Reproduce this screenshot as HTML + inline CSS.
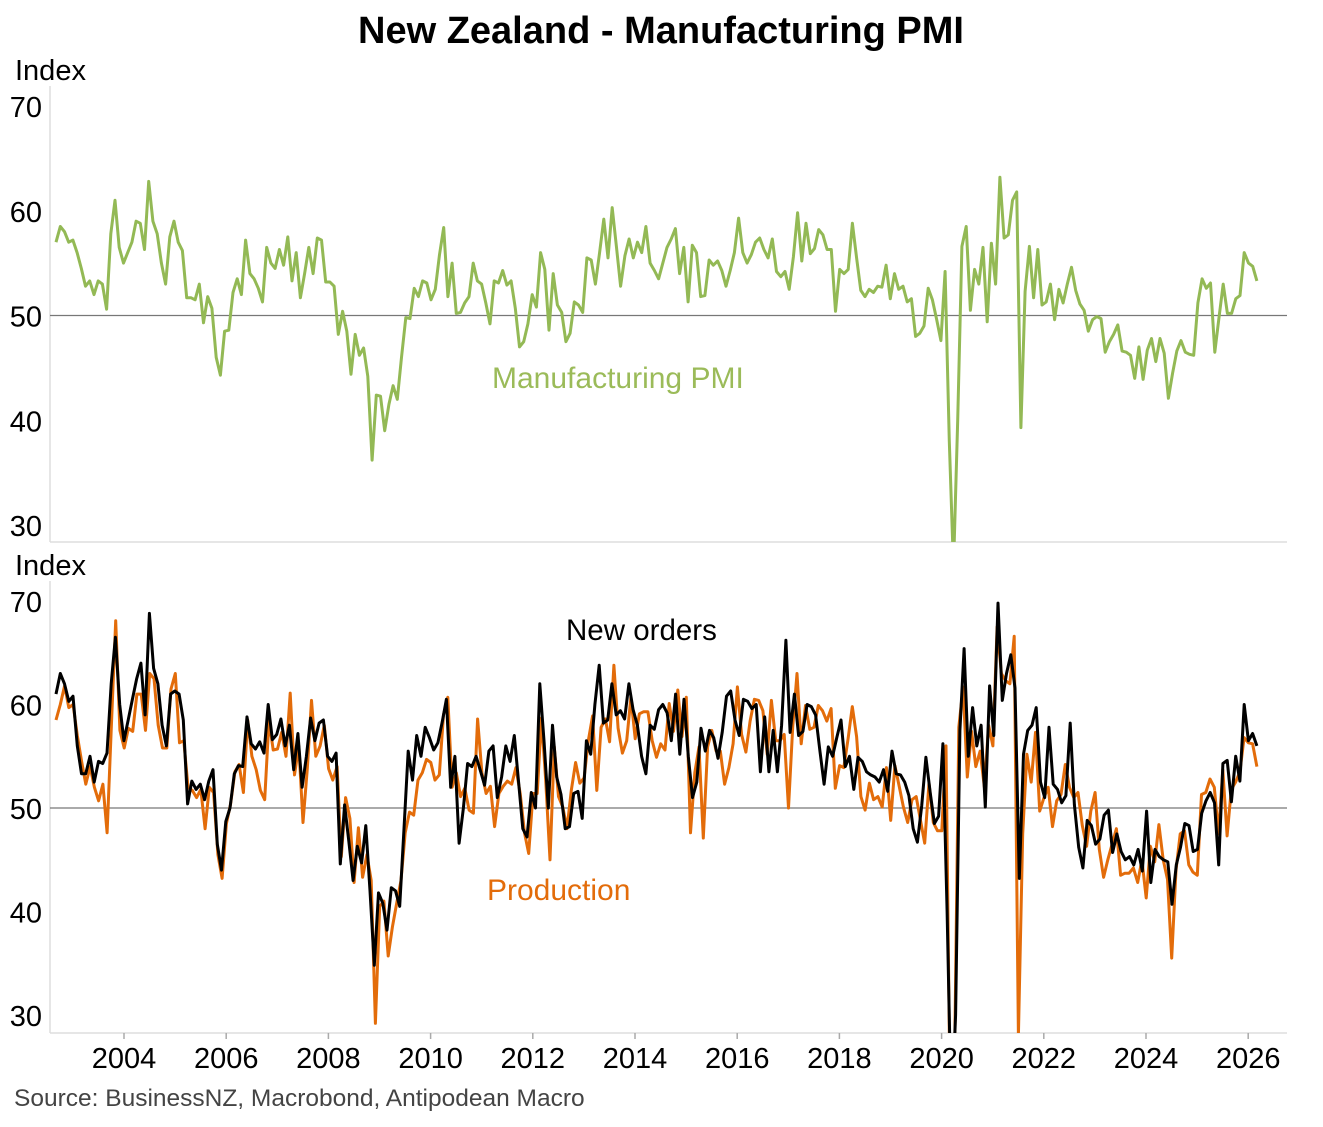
<!DOCTYPE html>
<html><head><meta charset="utf-8"><style>
body{margin:0;background:#fff;}
svg text{font-family:"Liberation Sans",Arial,sans-serif;}
</style></head><body>
<svg id="c" width="1323" height="1122" xmlns="http://www.w3.org/2000/svg">
<defs>
<clipPath id="clipTop"><rect x="50" y="90" width="1237" height="452"/></clipPath>
<clipPath id="clipBot"><rect x="50" y="585" width="1237" height="448"/></clipPath>
</defs>
<text x="661" y="43" text-anchor="middle" font-size="38" font-weight="bold">New Zealand - Manufacturing PMI</text>
<text x="15" y="80" font-size="29">Index</text>
<text x="15" y="575" font-size="29">Index</text>
<text x="14" y="1106" font-size="24.5" fill="#444">Source: BusinessNZ, Macrobond, Antipodean Macro</text>
<g id="gTop"></g>
<g id="gBot"></g>
<text x="492" y="388" font-size="30" fill="#9bbb59">Manufacturing PMI</text>
<text x="566" y="640" font-size="29.5" fill="#000">New orders</text>
<text x="487" y="900" font-size="30" fill="#e36c0a">Production</text>
</svg>
<script>
const yTicks=[30,40,50,60,70];
const xYears=[2004,2006,2008,2010,2012,2014,2016,2018,2020,2022,2024,2026];
const startYear=2002.67, endYear=2026.17;
const pmi=[57,58.5,58,57,57.2,56,54.5,52.8,53.3,52,53.3,53,50.6,57.8,61,56.5,55,56,57,59,58.8,56.3,62.8,59,57.8,55,53,57.5,59,57,56.2,51.7,51.7,51.5,53,49.3,51.8,50.7,46,44.3,48.5,48.6,52.2,53.5,52,57.2,54,53.5,52.6,51.3,56.5,55,54.5,56.3,54.8,57.5,53.3,56,51.7,54,56.5,54,57.4,57.2,53.2,53.2,52.8,48.2,50.4,48.5,44.4,48.2,46.2,46.9,44.2,36.2,42.4,42.3,39,41.5,43.3,42,46,49.8,49.7,52.6,51.8,53.3,53.1,51.5,52.5,55.8,58.4,51.8,55,50.2,50.3,51.2,51.8,55,53.3,53,51.2,49.2,53.3,53.1,54.3,52.9,53.3,50.7,47,47.5,49.2,52,50.8,56,54.4,48.6,54,51,50.3,47.5,48.3,51.3,51,50.3,55.5,55.3,53,56,59.2,55.5,60.3,56.6,52.8,55.7,57.3,55.5,57,56,58.5,55,54.3,53.5,55,56.5,57.3,58.3,54,56.5,51.3,56.7,56,51.8,51.9,55.3,54.8,55.2,54.3,52.8,54.3,56,59.3,56,55,55.8,57,57.4,56.3,55.5,57.3,54.2,53.7,54.2,52.5,55.6,59.8,55.2,58.8,55.9,56.4,58.2,57.7,56.3,56.3,50.4,54.4,54,54.4,58.8,55.5,52.4,51.8,52.5,52.2,52.8,52.7,54.8,51.6,54,52.5,52.8,51.3,51.6,48,48.3,49,52.6,51.5,49.6,47.6,54.2,38,25.9,40,56.6,58.5,50.5,54.4,53,56.5,49.4,56.9,53,63.2,57.4,57.7,61,61.8,39.3,52.3,56.6,51.7,56.3,51,51.3,53,49.6,52.5,51.2,53,54.6,52.4,51.1,50.5,48.5,49.6,49.9,49.7,46.5,47.5,48.2,49.1,46.6,46.5,46.2,44,47,43.9,46.7,47.8,45.6,47.8,46.4,42.1,44.5,46.6,47.6,46.5,46.3,46.2,51.2,53.5,52.6,53.1,46.5,49.8,53,50.2,50.2,51.6,51.9,56,55,54.7,53.3];
const newOrders=[61,63,62,60.3,60.8,56,53.3,53.3,55,52.5,54.5,54.3,55.3,62,66.5,60,56.5,58.5,60.5,62.5,64,59,68.8,63.5,62,58,56,61,61.3,61,58.5,50.4,52.6,51.8,52.3,50.8,52.6,53.7,46.5,44,48.7,50,53.3,54.1,54,58.8,56.2,55.7,56.4,55.3,60,56.6,57.1,58.6,56,58,53.7,57.2,52,55,58.7,56.5,58.2,58.5,55,54.5,55.3,44.6,50.3,46.8,43,46.3,44.7,48.3,42,34.8,41.8,40.8,38.2,42.3,42,40.5,48,55.5,52.7,57,55,57.8,56.8,55.6,56.3,58.3,60.5,52,55,46.6,50,54.3,54,55,53.6,52.2,55.5,56,51,53,56,54.5,57,52.5,48,47.2,51.5,50,62,56.5,50,58,53,51.3,48,48.2,51.4,51.6,49,56.5,55.2,60,63.8,58.2,58.5,62,59,59.4,58.6,62,59.5,58,55,53.3,58,57.6,59.5,60,59.2,56.5,61,55.2,60.5,55,51,52.5,57.7,55.5,57.5,56.8,54.8,57.3,60.8,61.3,58.5,57,60.5,60.3,59.6,60,53.5,58.8,53.5,57.5,53.5,58,66.2,57.3,61,57,57.4,60,59.8,59,55.6,52.3,55.9,55,56.8,58.5,54,55,51.8,54.9,54.5,53.5,53.2,53,52.5,53.7,51.6,55.5,53.3,53.2,52.5,51.2,48,46.7,50.2,54.9,51.5,48.5,49.2,56.2,40,20,30,57.5,65.4,55,59.7,56,58,50.1,61.8,57,69.8,60.4,63,64.8,61.6,43.2,55.2,57.5,58,59.7,52.5,51,57.8,52.3,51.8,50.5,51.2,58.2,50.3,46.2,44.2,48.8,48.3,46.5,47,49.3,49.8,45.7,47.5,45.8,45,45.3,44.5,46,43.9,49.7,42.8,46,45.3,45,44.8,40.7,44.5,46.2,48.5,48.3,45.8,46,49.5,50.7,51.5,50.5,44.5,54.3,54.6,50.6,55,52.6,60,56.5,57.2,56];
const production=[58.5,60,61.8,59.7,60,57,54.5,52.3,54,52,50.7,52.3,47.6,58,68.1,57.5,55.8,57.7,57.4,61,61,57.5,63,62.5,58,55.8,55.8,61.5,63,56.3,56.5,52,51.7,51,51.8,48,52,51.5,45.5,43.2,48.5,50.4,53.5,54.2,51.5,58.5,55,53.7,51.7,50.8,58.5,55.6,55.7,57.3,55,61.1,53.2,56,48.6,53.8,60.4,55,56,58,53.8,52.7,54,45.3,51,49,42.8,48.1,43.3,45.5,43,29.2,40.5,41,35.7,38.5,40.8,
43,47.6,49.6,49.3,52.7,53.4,54.7,54.4,52.7,53.2,59,60.7,52,53.4,51.1,51.9,49.8,49.5,58.6,53.4,51.4,52.1,48.2,51.4,52.1,52.6,52.3,53.9,51.4,47.6,45.6,51.4,51.4,58.7,52.7,45,55.9,51.1,50.1,48,51.7,54.4,52.4,52.9,56.5,58.9,51.7,57.8,58.6,56.4,63.8,57.7,55.3,56.5,60.7,56.7,59.1,59.3,59.3,56.5,54.9,56.2,55.6,60.1,57.4,61.4,56.9,60.7,47.6,53.4,55.9,
47.1,55.9,57.5,55.5,55.5,52.3,53.9,56.2,61.7,57.1,55.4,58.4,60.5,60.4,59.4,55.2,60.4,56.5,56.5,57.1,50,57.8,63,56.2,59.9,57.6,57.8,59.9,59.4,58.4,59.6,51.9,54.1,53.9,56.7,59.8,56.9,51.1,49.8,52.4,50.8,51.1,50.1,53.9,48.8,54.1,52.1,50.1,48.6,50.8,51.1,48.8,46.6,52.4,48.6,47.8,47.8,56,20,25,57.8,61.7,
53,57.4,54,55.5,52,58,56,67.5,63,62.3,62,66.6,28,47.5,55.2,52.5,57.3,49.7,51,52,48.2,50.7,51.3,54.2,52,51,51.5,48.3,46.3,49.7,51.5,46,43.3,45,46.5,48,43.5,43.7,43.7,44.2,42.8,45,41.3,46.3,44.8,48.4,45,43.1,35.5,44,47.5,47.8,44.5,43.8,43.5,51.3,51.5,52.8,52,47.5,53.7,47.3,51.8,52.5,53.5,56.8,56.3,56.2,54];

const NS='http://www.w3.org/2000/svg';
function xOfYear(y){return 124+(y-2004)*51.1;}
function xOfIdx(i,n){return xOfYear(startYear+(endYear-startYear)*i/(n-1));}
function mk(tag,attrs,parent){const e=document.createElementNS(NS,tag);for(const k in attrs)e.setAttribute(k,attrs[k]);parent.appendChild(e);return e;}

function panel(g,y70,y30,bottom,series,colors,names,clip,prefix){
  const yOf=v=>y30+(v-30)*(y70-y30)/40;
  let e=mk('line',{x1:50,x2:50,y1:y70-20,y2:bottom,stroke:'#ddd','stroke-width':1.5},g);
  
  
  e=mk('line',{x1:50,x2:1287,y1:bottom,y2:bottom,stroke:'#ddd','stroke-width':1.5},g);
  
  
  e=mk('line',{x1:50,x2:1287,y1:yOf(50),y2:yOf(50),stroke:'#777','stroke-width':1.2},g);
  
  
  yTicks.forEach(t=>{
    const tx=mk('text',{x:42,y:yOf(t)+11,'text-anchor':'end','font-size':29},g);
    tx.textContent=t;
    
    
  });
  series.forEach((s,k)=>{
    const pts=s.map((v,i)=>xOfIdx(i,s.length).toFixed(1)+','+yOf(v).toFixed(1)).join(' ');
    const p=mk('polyline',{points:pts,fill:'none',stroke:colors[k],'stroke-width':3,'stroke-linejoin':'round','clip-path':'url(#'+clip+')'},g);
    
    
  });
}
const gTop=document.getElementById('gTop'), gBot=document.getElementById('gBot');
panel(gTop,106,525,542,[pmi],['#93b955'],['pmi-line'],'clipTop','top');
panel(gBot,601,1015,1033,[production,newOrders],['#e36c0a','#000'],['production-line','new-orders-line'],'clipBot','bottom');
xYears.forEach(y=>{
  const x=xOfYear(y);
  const t=mk('line',{x1:x,x2:x,y1:1033,y2:1039,stroke:'#aaa','stroke-width':1.5},gBot);
  
  
  const tx=mk('text',{x:x,y:1068,'text-anchor':'middle','font-size':29},gBot);
  tx.textContent=y;
  
  
});
</script>
</body></html>
